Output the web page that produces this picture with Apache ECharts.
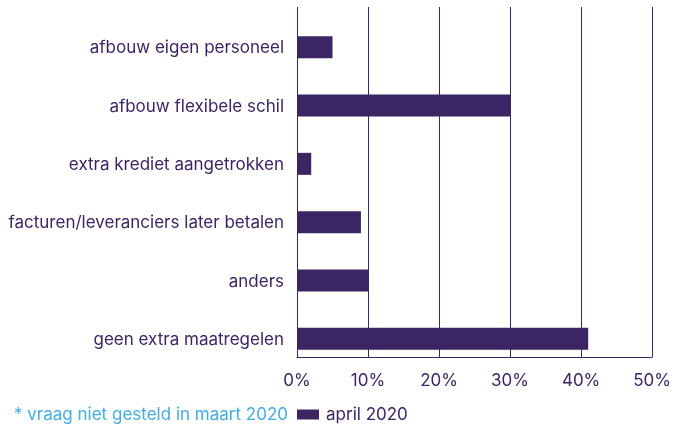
<!DOCTYPE html>
<html><head><meta charset="utf-8">
<script src="https://cdn.jsdelivr.net/npm/echarts@6/dist/echarts.min.js"></script>
<style>html,body{margin:0;padding:0;background:#fff}#c{width:674px;height:425px}</style>
</head><body><div id="c"></div>
<script>
const categories = ["afbouw eigen personeel","afbouw flexibele schil","extra krediet aangetrokken","facturen/leveranciers later betalen","anders","geen extra maatregelen"];
const maart2020 = [null,null,null,null,null,null];
const april2020 = [5,30,2,9,10,41];
const xTicks = [0,10,20,30,40,50];
const seriesNames = ["* vraag niet gesteld in maart 2020","april 2020"];

const purple = '#3b2563';
const font = 'Inter';
const chart = echarts.init(document.getElementById('c'));
chart.setOption({
  animation:false,
  textStyle:{fontFamily:font},
  grid:{left:297,right:18,top:7,bottom:68,containLabel:false},
  xAxis:{type:'value',min:xTicks[0],max:xTicks[xTicks.length-1],interval:10,
    axisLine:{show:true,lineStyle:{color:purple,width:1}},
    axisTick:{show:false},
    axisLabel:{formatter:'{value}%',color:purple,fontSize:17,margin:15,fontFamily:font},
    splitLine:{show:true,lineStyle:{color:purple,width:1}}},
  yAxis:{type:'category',data:categories,inverse:true,
    axisLine:{show:false},axisTick:{show:false},
    axisLabel:{color:purple,fontSize:17,margin:13,fontFamily:font,verticalAlign:'top',lineHeight:24}},
  legend:{left:-18,top:401,itemWidth:22,itemHeight:10,itemGap:9,
    textStyle:{fontSize:17,fontFamily:font},
    data:[{name:seriesNames[0],icon:'none',textStyle:{color:'#45ace0'}},
          {name:seriesNames[1],icon:'rect',textStyle:{color:purple,padding:[0,0,0,2]}}]},
  series:[
    {name:seriesNames[0],type:'bar',data:maart2020,barWidth:22,barGap:'0%',itemStyle:{color:'#45ace0'}},
    {name:seriesNames[1],type:'bar',data:april2020,barWidth:22,barGap:'0%',itemStyle:{color:purple}}
  ]
});
</script></body></html>
